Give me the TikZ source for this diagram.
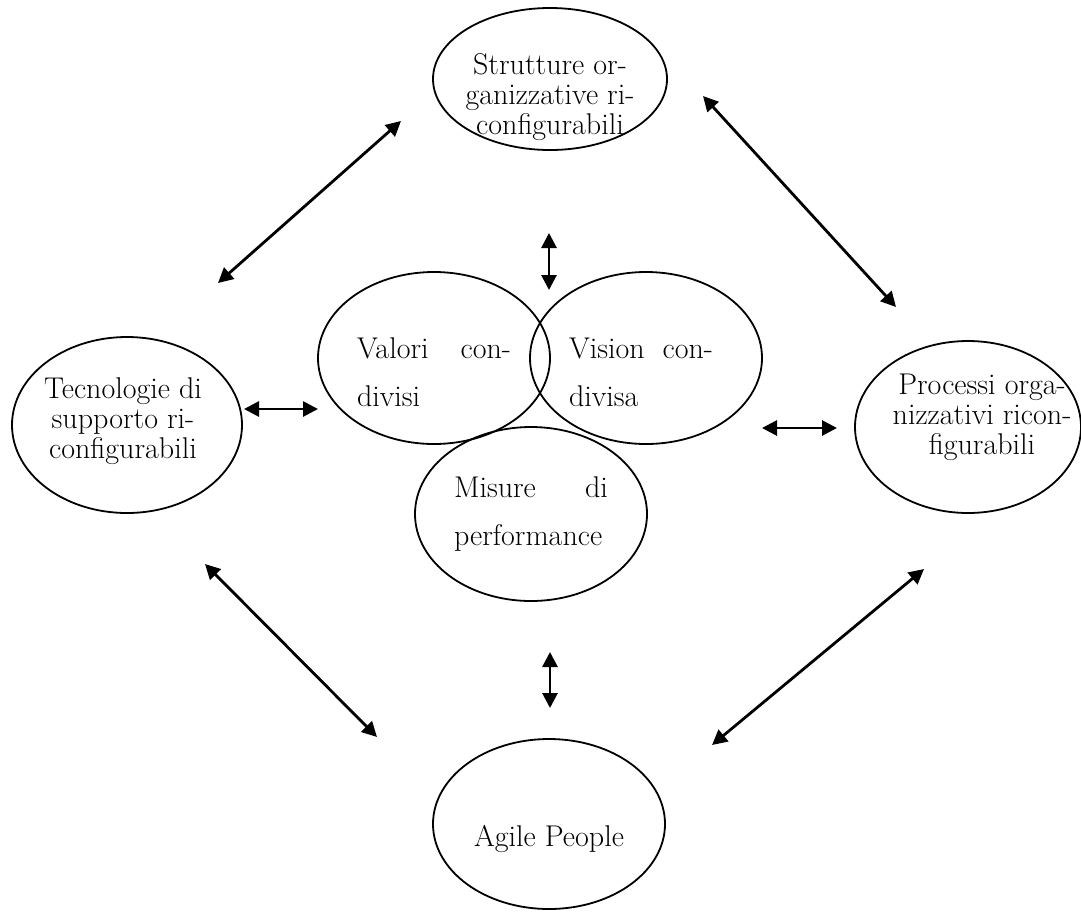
\documentclass[tikz,border=0pt]{standalone}
\usetikzlibrary{shapes.geometric}
\usetikzlibrary{positioning,fit,calc}
\usetikzlibrary{arrows.meta}

\begin{document}
\begin{tikzpicture}[x=0.5pt,y=-0.5pt,
  oval/.style={ellipse,draw,line width=0.9pt,inner sep=0pt},
  outtext/.style={align=center,inner sep=0pt,font=\fontsize{15}{15}\selectfont},
  intext/.style={text width=77pt,align=left,inner sep=0pt,font=\fontsize{15}{24}\selectfont},
  link/.style={{Triangle[length=7.5pt,width=7.5pt]}-{Triangle[length=7.5pt,width=7.5pt]},line width=1.4pt}]
  \useasboundingbox (0,0) rectangle (1081,911);

  % outer ring
  \node (strutture) at (550,79) [oval,minimum width=117pt,minimum height=71pt,
    label={[outtext,yshift=-9pt]center:{Strutture or-\\ganizzative ri-\\configurabili}}] {};
  \node (tecnologie) at (127,425) [oval,minimum width=115pt,minimum height=88pt,
    label={[outtext,xshift=-2pt,yshift=2pt]center:{Tecnologie di\\supporto ri-\\configurabili}}] {};
  \node (processi) at (968,427) [oval,minimum width=113pt,minimum height=86pt,
    label={[outtext,xshift=7pt,yshift=5pt]center:{Processi orga-\\nizzativi ricon-\\figurabili}}] {};
  \node (agile) at (549,824) [oval,minimum width=116pt,minimum height=85pt,
    label={[outtext,yshift=-7.5pt]center:{Agile People}}] {};

  % core
  \node (valori) at (434,358) [oval,minimum width=116pt,minimum height=86pt,
    label={[intext,yshift=-7pt]center:{Valori\hfill con-\\divisi}}] {};
  \node (vision) at (646,358) [oval,minimum width=116pt,minimum height=86pt,
    label={[intext,xshift=-2.5pt,yshift=-7pt,text width=72pt]center:{Vision\hfill con-\\divisa}}] {};
  \node (misure) at (531,514) [oval,minimum width=116pt,minimum height=87pt,
    label={[intext]center:{Misure\hfill di\\performance}}] {};

  % arrow ends
  \coordinate (st-a) at (401,121);
  \coordinate (te-a) at (218,283);
  \coordinate (st-b) at (703,96);
  \coordinate (pr-a) at (896,307);
  \coordinate (te-b) at (205,564);
  \coordinate (ag-a) at (377,737);
  \coordinate (pr-b) at (924,569);
  \coordinate (ag-b) at (712,745);
  \coordinate (st-c) at (549,233);
  \coordinate (co-a) at (549,290);
  \coordinate (co-b) at (550,652);
  \coordinate (ag-c) at (550,708);
  \coordinate (te-c) at (244,409);
  \coordinate (co-c) at (318,409);
  \coordinate (co-d) at (762,428);
  \coordinate (pr-c) at (837,428);

  \draw [link] (st-a) -- (te-a);
  \draw [link] (st-b) -- (pr-a);
  \draw [link] (te-b) -- (ag-a);
  \draw [link] (pr-b) -- (ag-b);
  \draw [link] (st-c) -- (co-a);
  \draw [link] (co-b) -- (ag-c);
  \draw [link] (te-c) -- (co-c);
  \draw [link] (co-d) -- (pr-c);
\end{tikzpicture}
\end{document}
